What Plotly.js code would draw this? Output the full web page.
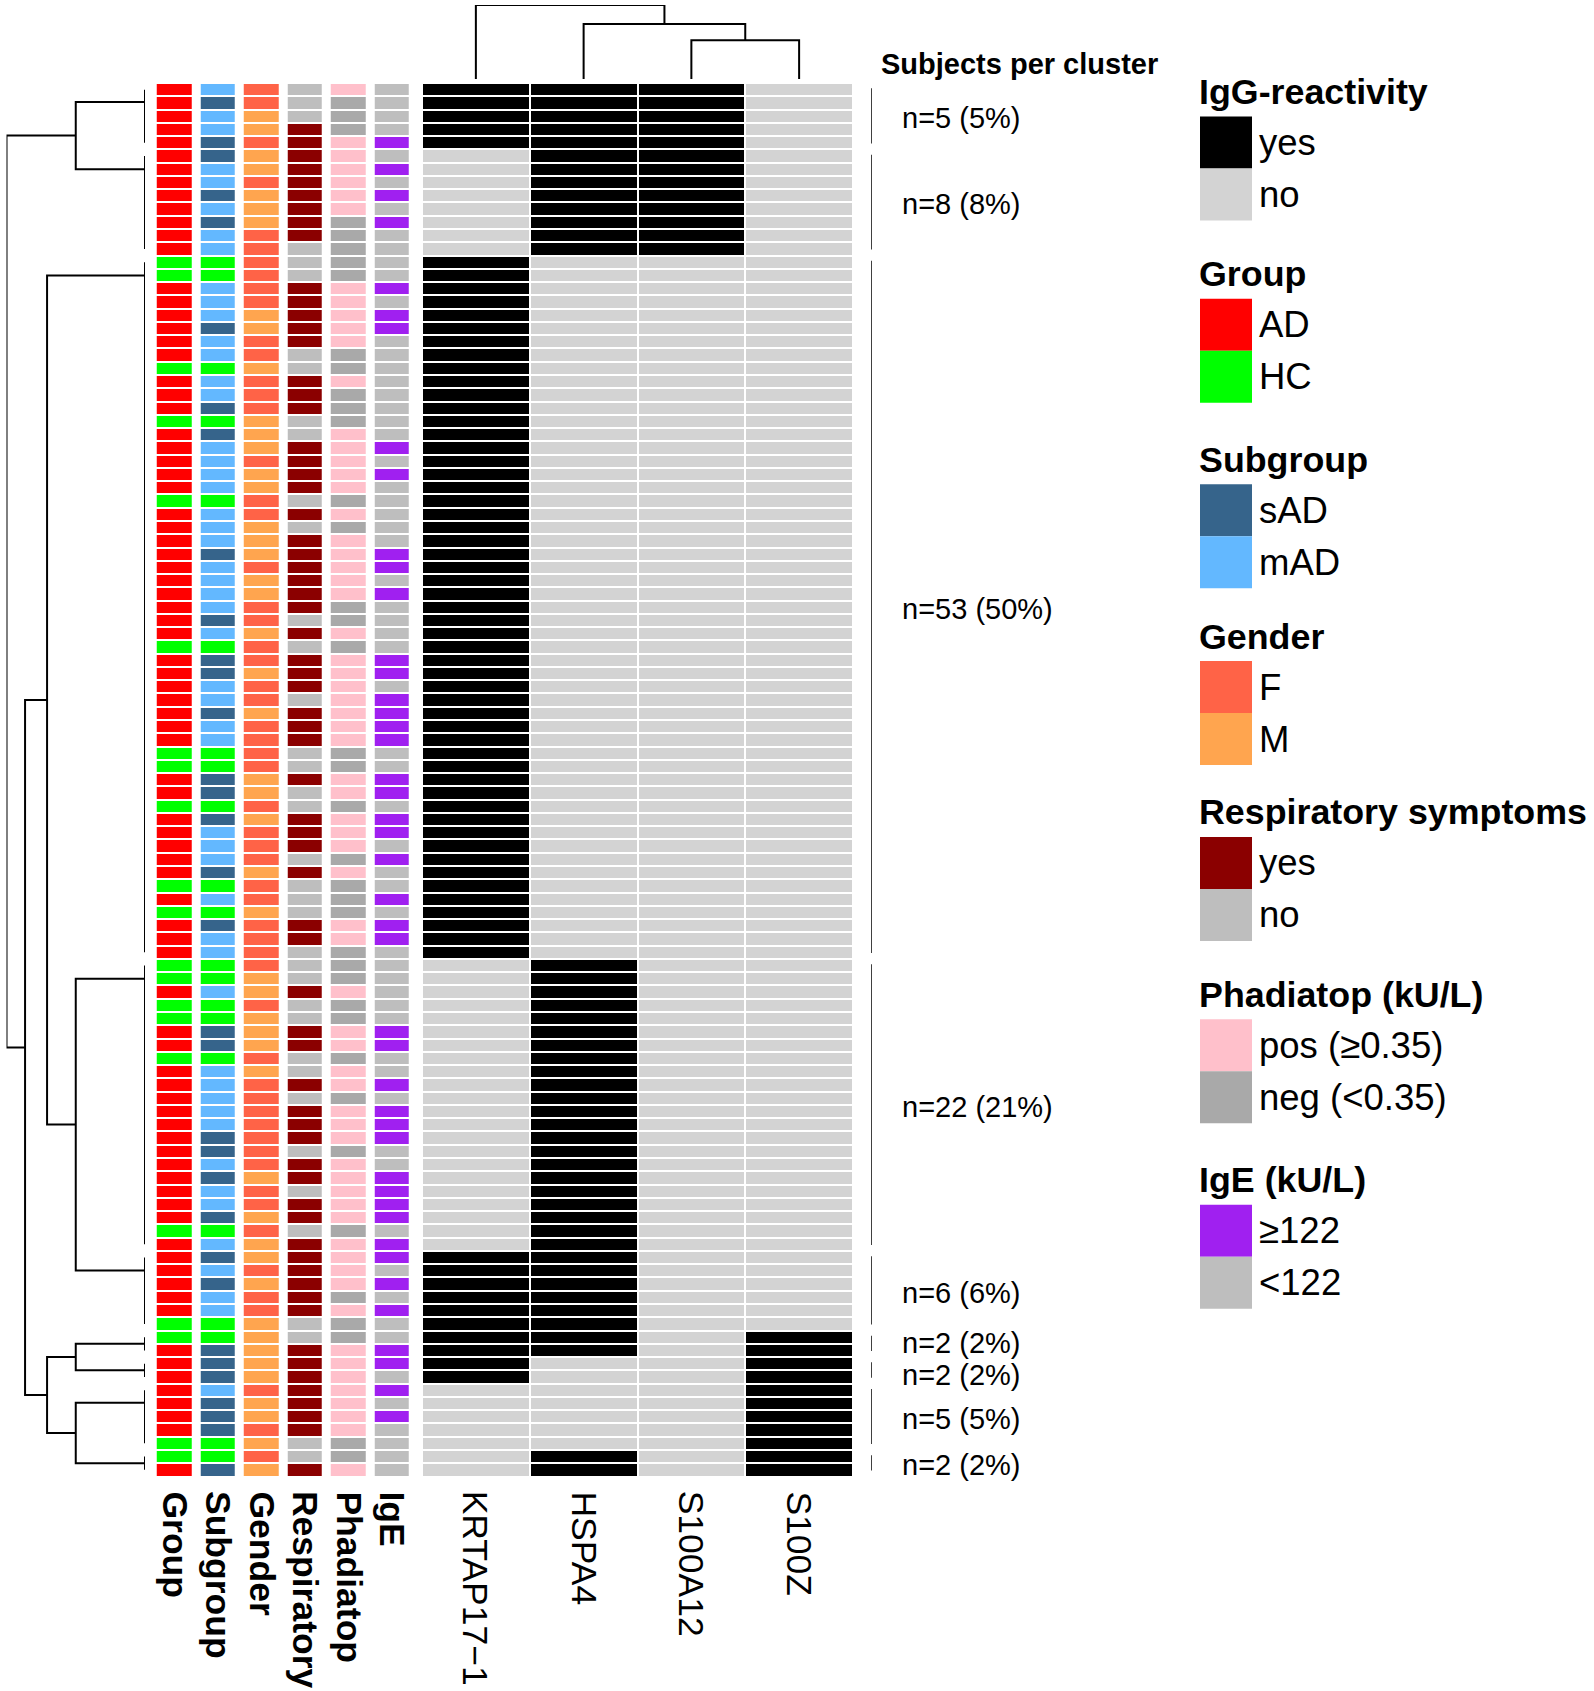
<!DOCTYPE html>
<html>
<head>
<meta charset="utf-8">
<script src="https://cdn.plot.ly/plotly-3.0.1.min.js"></script>
<style>
  body { margin: 0; background: #fff; }
  #chart { width: 1594px; height: 1691px; }
</style>
</head>
<body>
<div id="chart"></div>
<script>
const W = 1594, H = 1691;
const FONT = "Liberation Sans, Arial, sans-serif";

// subject clusters, top to bottom
const clusterSizes = [5, 8, 53, 22, 6, 2, 2, 5, 2];
// IgG reactivity of each cluster against the antigens (1 = yes)
const antigens = ["KRTAP17−1", "HSPA4", "S100A12", "S100Z"];
const clusterReactivity = [
    [1, 1, 1, 0],
    [0, 1, 1, 0],
    [1, 0, 0, 0],
    [0, 1, 0, 0],
    [1, 1, 0, 0],
    [1, 1, 0, 1],
    [1, 0, 0, 1],
    [0, 0, 0, 1],
    [0, 1, 0, 1],
];
// merge order of the dendrograms (cluster / antigen indices)
const rowTree = [[0, 1], [[2, [3, 4]], [[5, 6], [7, 8]]]];
const colTree = [0, [1, [2, 3]]];

// per-subject annotations, one letter per row
const groupRows = ["AAAAAAAAAA", "AAAHHAAAAA", "AHAAAHAAAA", "AHAAAAAAAA", "AAHAAAAAAA", "HHAAHAAAAA",
    "HAHAAAHHAH", "HAAHAAAAAA", "AAAAAAHAAA", "AAAHHAAAAA", "AAHHA"].join("");
const subgroupRows = ["msmmssmmsm", "smmhhmmmsm", "mhmmshsmmm", "mhmmmsmmmm", "smhssmmsmm", "hhsshsmmms",
    "hmhsmmhhmh", "hsshmmmmms", "smsmmshmsm", "smmhhsssms", "sshhs"].join("");
const genderRows = ["FFMMFMMFMM", "MFFFFFFMMF", "FMFFFMMMFM", "MFFMMMFMMF", "FMFFMFFMFF", "FFMMFMFFFM",
    "FFMFFFFMMF", "MMMFMFFFFF", "FFMFFMFMMF", "MFFMMMMMFM", "MFMFM"].join("");
const respRows = ["nnnyyyyyyy", "yynnnyyyyy", "nnyyynnyyy", "ynynyyyyyy", "nynyyynyyy", "nnynnyyyny",
    "nnnyynnnyn", "nyynnynyyy", "nyynyynyyy", "yyynnyyyyy", "yynny"].join("");
const phadRows = ["pnnnpppppp", "nnnnnppppp", "nnpnnnpppp", "pnpnpppppn", "npnppppppp", "nnppnpppnp",
    "nnnppnnnpn", "nppnppnppp", "npppppnppp", "pnpnnppppp", "ppnnp"].join("");
const igeRows = ["llllhlhlhl", "hllllhlhhl", "lllllllhlh", "lllllhhlhl", "lllhhlhhhh", "llhhlhhlhl",
    "lhlhhlllll", "lhhllhlhhh", "llhhhhlhhl", "hlhllhhlhl", "hllll"].join("");

const annotNames = ["Group", "Subgroup", "Gender", "Respiratory", "Phadiatop", "IgE"];
const annotRows = [groupRows, subgroupRows, genderRows, respRows, phadRows, igeRows];
const annotColors = [
    { A: "#FF0000", H: "#00FF00" },
    { s: "#36648B", m: "#63B8FF", h: "#00FF00" },
    { F: "#FF6347", M: "#FFA54F" },
    { y: "#8B0000", n: "#BEBEBE" },
    { p: "#FFC0CB", n: "#A9A9A9" },
    { h: "#A020F0", l: "#BEBEBE" },
];
const iggColors = ["#D3D3D3", "#000000"];

// legend
const legendTitles = ["IgG-reactivity", "Group", "Subgroup", "Gender", "Respiratory symptoms", "Phadiatop (kU/L)", "IgE (kU/L)"];
const legendLabels = [["yes", "no"], ["AD", "HC"], ["sAD", "mAD"], ["F", "M"], ["yes", "no"], ["pos (≥0.35)", "neg (<0.35)"], ["≥122", "<122"]];
const legendKeys = [[1, 0], ["A", "H"], ["s", "m"], ["F", "M"], ["y", "n"], ["p", "n"], ["h", "l"]];
const legendTops = [116.5, 298.7, 484.2, 661.1, 836.9, 1019.2, 1204.7]; // px from top

// ---- expand clusters to rows
const clusterRows = [];
let nRows = 0;
clusterSizes.forEach(n => {
    const rows = [];
    for (let k = 0; k < n; k++) rows.push(nRows + k);
    clusterRows.push(rows);
    nRows += n;
});
const igg = [];
clusterRows.forEach((rows, c) => rows.forEach(() => igg.push(clusterReactivity[c])));
const iggCols = antigens.map((_, j) => igg.map(v => v[j]));
const rowIdx = igg.map((_, i) => i);

function dist(a, b) {
    let s = 0;
    for (let k = 0; k < a.length; k++) s += (a[k] - b[k]) ** 2;
    return Math.sqrt(s);
}

// complete-linkage dendrogram, leaf groups are chained at height 0
function dendrogram(tree, leafGroup, vecs) {
    const hs = [], ps = [];
    function join(a, b) {
        let h = 0;
        for (const i of a.members) for (const j of b.members) h = Math.max(h, dist(vecs[i], vecs[j]));
        hs.push(a.h, h, h, b.h, null);
        ps.push(a.pos, a.pos, b.pos, b.pos, null);
        return { members: a.members.concat(b.members), pos: (a.pos + b.pos) / 2, h: h };
    }
    function build(t) {
        if (Array.isArray(t)) return join(build(t[0]), build(t[1]));
        const leaves = leafGroup(t).map(i => ({ members: [i], pos: i, h: 0 }));
        let node = leaves[leaves.length - 1];
        for (let k = leaves.length - 2; k >= 0; k--) node = join(leaves[k], node);
        return node;
    }
    const root = build(tree);
    return { h: hs, pos: ps, top: root.h };
}

const rowDend = dendrogram(rowTree, c => clusterRows[c], igg);
const colDend = dendrogram(colTree, j => [j], iggCols);

// ---- annotation heatmap with a discrete palette
const palette = [];
annotColors.forEach(m => Object.values(m).forEach(c => { if (!palette.includes(c)) palette.push(c); }));
const annotZ = rowIdx.map(i => annotRows.map((s, j) => palette.indexOf(annotColors[j][s[i]])));
const annotScale = [];
palette.forEach((c, k) => {
    annotScale.push([k / palette.length, c], [(k + 1) / palette.length, c]);
});

const traces = [
    {
        type: "scatter", mode: "lines", xaxis: "x", yaxis: "y",
        x: rowDend.h, y: rowDend.pos,
        line: { color: "#000", width: 2 }, hoverinfo: "skip", showlegend: false,
    },
    {
        type: "heatmap", xaxis: "x2", yaxis: "y",
        z: annotZ, x: annotNames.map((_, j) => j), y: rowIdx,
        zmin: -0.5, zmax: palette.length - 0.5, colorscale: annotScale,
        xgap: 9, ygap: 2, showscale: false, hoverinfo: "skip",
    },
    {
        type: "heatmap", xaxis: "x3", yaxis: "y",
        z: igg, x: antigens.map((_, j) => j), y: rowIdx,
        zmin: 0, zmax: 1,
        colorscale: [[0, iggColors[0]], [0.5, iggColors[0]], [0.5, iggColors[1]], [1, iggColors[1]]],
        xgap: 2, ygap: 2, showscale: false, hoverinfo: "skip",
    },
    {
        type: "scatter", mode: "lines", xaxis: "x3", yaxis: "y2",
        x: colDend.pos, y: colDend.h,
        line: { color: "#000", width: 2 }, hoverinfo: "skip", showlegend: false,
    },
];

// cluster brackets
const brX = [], brY = [];
clusterRows.forEach(rows => {
    brX.push(0, 0, null);
    brY.push(rows[0] - 0.1, rows[rows.length - 1] + 0.05, null);
});
traces.push({
    type: "scatter", mode: "lines", xaxis: "x4", yaxis: "y",
    x: brX, y: brY, line: { color: "#000", width: 1.5 }, hoverinfo: "skip", showlegend: false,
});

const annotations = [];
const shapes = [];

// cluster size labels, pushed apart where clusters are small
const rowPx = (1476.5 - 83) / nRows;
const labelMinGap = 32 / rowPx;
const labelPos = clusterRows.map(rows => (rows[0] + rows[rows.length - 1]) / 2);
for (let k = 1; k < labelPos.length; k++) {
    const gap = labelPos[k] - labelPos[k - 1];
    if (gap < labelMinGap) {
        const push = (labelMinGap - gap) / 2;
        labelPos[k - 1] -= push;
        labelPos[k] += push;
    }
}
clusterRows.forEach((rows, c) => {
    const n = rows.length;
    annotations.push({
        xref: "x4", yref: "y", x: 29, y: labelPos[c], yshift: -2,
        text: `n=${n} (${Math.round(n / nRows * 100)}%)`,
        xanchor: "left", yanchor: "middle", showarrow: false,
        font: { family: FONT, size: 29, color: "#000" },
    });
});
annotations.push({
    xref: "paper", yref: "paper", x: 879 / W, y: 1 - 63.5 / H,
    text: "<b>Subjects per cluster</b>", xanchor: "left", yanchor: "middle", showarrow: false,
    font: { family: FONT, size: 29, color: "#000" },
});

annotNames.forEach((name, j) => {
    annotations.push({
        xref: "x2", yref: "paper", x: j, y: 1 - 1489 / H,
        text: `<b>${name}</b>`, textangle: 90, xanchor: "center", yanchor: "top", showarrow: false,
        font: { family: FONT, size: 35.5, color: "#000" },
    });
});
antigens.forEach((name, j) => {
    annotations.push({
        xref: "x3", yref: "paper", x: j, y: 1 - 1489 / H,
        text: name, textangle: 90, xanchor: "center", yanchor: "top", showarrow: false,
        font: { family: FONT, size: 35.5, color: "#000" },
    });
});

// legend blocks
const lgX = 1200, swW = 52, swH = 52;
legendTitles.forEach((title, b) => {
    const top = legendTops[b];
    annotations.push({
        xref: "paper", yref: "paper", x: (lgX - 3) / W, y: 1 - (top - 2.5) / H,
        text: `<b>${title}</b>`, xanchor: "left", yanchor: "bottom", showarrow: false,
        font: { family: FONT, size: 35.8, color: "#000" },
    });
    legendKeys[b].forEach((key, k) => {
        const color = b === 0 ? iggColors[key] : annotColors[b - 1][key];
        shapes.push({
            type: "rect", xref: "paper", yref: "paper",
            x0: lgX / W, x1: (lgX + swW) / W,
            y0: 1 - (top + k * swH) / H, y1: 1 - (top + (k + 1) * swH) / H,
            fillcolor: color, line: { width: 0 },
        });
        annotations.push({
            xref: "paper", yref: "paper", x: (lgX + swW + 5) / W, y: 1 - (top + (k + 0.5) * swH) / H,
            text: legendLabels[b][k], xanchor: "left", yanchor: "middle", showarrow: false,
            font: { family: FONT, size: 36.5, color: "#000" },
        });
    });
});

const hidden = { visible: false, fixedrange: true };
const layout = {
    width: W, height: H,
    margin: { l: 0, r: 0, t: 0, b: 0 },
    paper_bgcolor: "#fff", plot_bgcolor: "rgba(0,0,0,0)",
    showlegend: false,
    xaxis: { ...hidden, domain: [6.5 / W, 145 / W], range: [rowDend.top, 0], anchor: "y" },
    xaxis2: { ...hidden, domain: [152.75 / W, 413.85 / W], range: [-0.5, annotNames.length - 0.5], anchor: "y" },
    xaxis3: { ...hidden, domain: [422 / W, 853 / W], range: [-0.5, antigens.length - 0.5], anchor: "y" },
    xaxis4: { ...hidden, domain: [871 / W, 1071 / W], range: [0, 200], anchor: "y" },
    yaxis: { ...hidden, domain: [1 - 1476.5 / H, 1 - 83 / H], range: [nRows - 0.5, -0.5], anchor: "x" },
    yaxis2: { ...hidden, domain: [1 - 79 / H, 1 - 5 / H], range: [0, colDend.top], anchor: "x3" },
    annotations: annotations,
    shapes: shapes,
};

Plotly.newPlot("chart", traces, layout, { staticPlot: true });
</script>
</body>
</html>
